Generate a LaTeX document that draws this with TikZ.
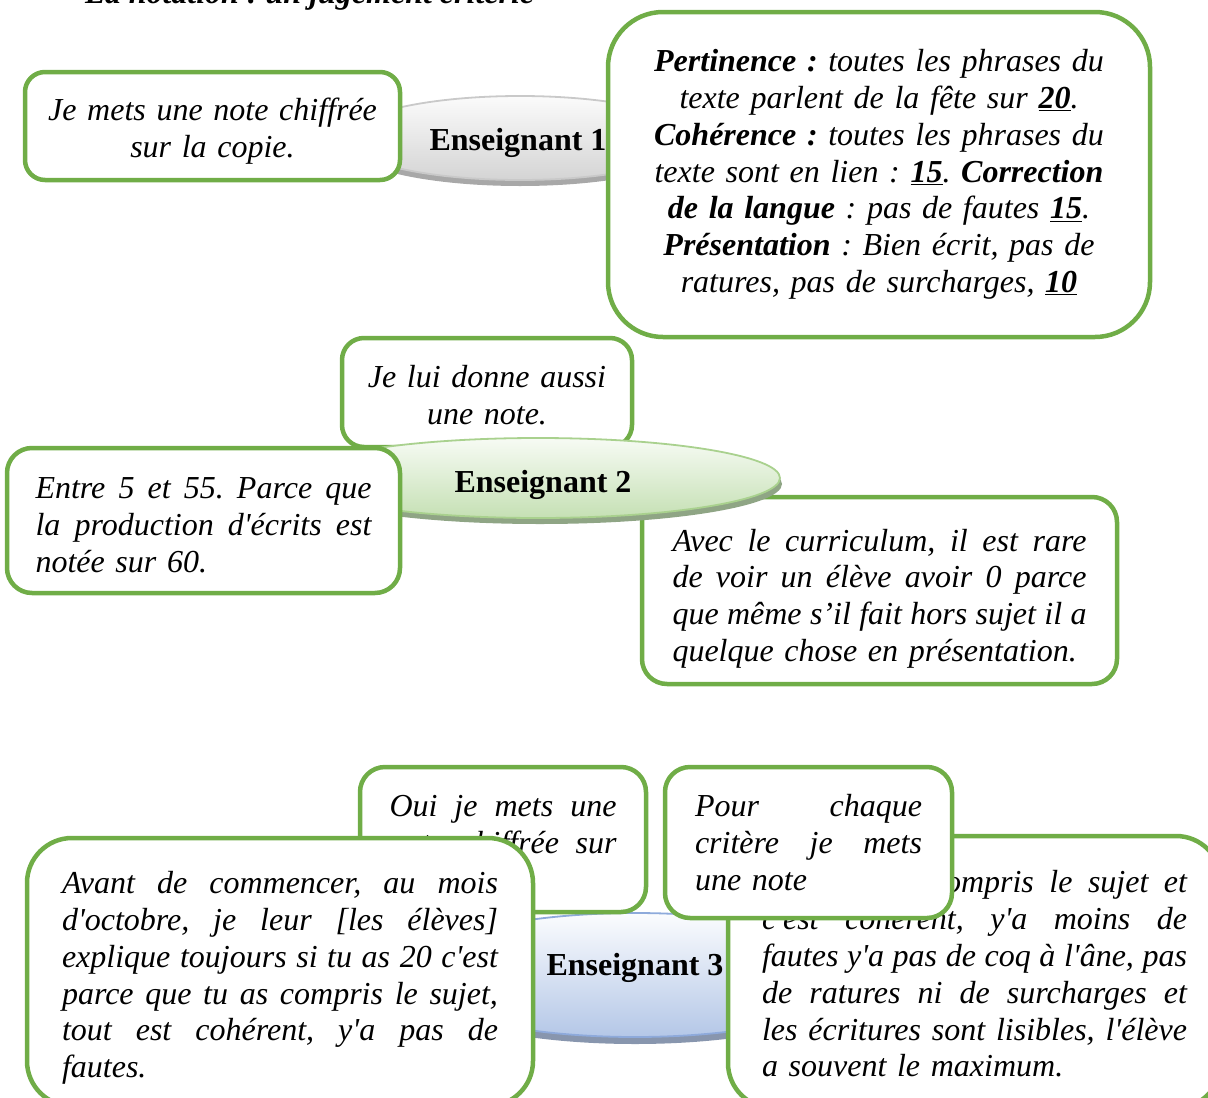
\documentclass[tikz,border=0pt]{standalone}
\usepackage{fontspec}
\setmainfont{Liberation Serif}[Ligatures=TeXOff]
\usetikzlibrary{shapes.geometric,shadows}

\definecolor{leafgreen}{HTML}{70AD47}
\definecolor{greytop}{HTML}{FBFBFB}
\definecolor{greybot}{HTML}{D4D4D4}
\definecolor{greyline}{HTML}{C9C9C9}
\definecolor{greyshade}{HTML}{A8A8A8}
\definecolor{mintop}{HTML}{F7FBF4}
\definecolor{minbot}{HTML}{C5E0B4}
\definecolor{minline}{HTML}{A9D18E}
\definecolor{minshade}{HTML}{8FA585}
\definecolor{skytop}{HTML}{FBFCFE}
\definecolor{skybot}{HTML}{B4C7E7}
\definecolor{skyline}{HTML}{8EAADB}
\definecolor{skyshade}{HTML}{8896AE}

% one justified line: #1 = measure, #2 = words; the spaces absorb all slack
\newcommand\jl[2]{\makebox[#1][s]{\spaceskip=.25em plus 1fil\xspaceskip=.25em plus 1fil\relax #2}\\}

\tikzset{
  card/.style={draw=leafgreen, line width=4.5pt, fill=white, rounded corners=#1,
    inner sep=0pt, font=\fontsize{32}{36.8}\selectfont\itshape\frenchspacing},
  card/.default=24pt,
  % push the text block down inside its card by half the given amount
  sink/.style={execute at end node={\par\kern-#1\relax}},
  hub/.style={ellipse, line width=1.8pt, inner sep=0pt},
  hubtext/.style={anchor=base, inner sep=0pt, font=\fontsize{32}{36.8}\selectfont\bfseries},
}

\begin{document}
\begin{tikzpicture}[x=1pt,y=-1pt]
\useasboundingbox (0,0) rectangle (1208,1098);
\clip (0,0) rectangle (1208,1098);

% heading
\node[anchor=base west, inner sep=0pt, font=\fontsize{32}{36.8}\selectfont\bfseries\itshape\frenchspacing]
  (title) at (85,3) {La notation : un jugement critérié};

% ---- Enseignant 1
\node[hub, draw=greyline, top color=greytop, bottom color=greybot,
  drop shadow={shadow xshift=0pt, shadow yshift=-6pt, fill=greyshade, opacity=1},
  minimum width=350pt, minimum height=84pt] (e1) at (520,138) {};
\node[hubtext] (e1t) at (518,150) {Enseignant 1};

\node[card=20pt, sink=10pt, minimum width=375pt, minimum height=108pt, text width=340pt, align=center]
  (n1a) at (212.5,126) {Je mets une note chiffrée\\ sur la copie.};

\node[card=55pt, minimum width=542pt, minimum height=325pt, text width=480pt, align=center]
  (n1b) at (879,174.5) {%
  \textbf{Pertinence :} toutes les phrases du\\
  texte parlent de la fête sur \underline{\textbf{20}}.\\
  \textbf{Cohérence :} toutes les phrases du\\
  texte sont en lien : \underline{\textbf{15}}. \textbf{Correction}\\
  \textbf{de la langue} : pas de fautes \underline{\textbf{15}}.\\
  \textbf{Présentation} : Bien écrit, pas de\\
  ratures, pas de surcharges, \underline{\textbf{10}}};

% ---- Enseignant 2
\node[card=22pt, sink=6pt, minimum width=290pt, minimum height=109pt, text width=260pt, align=center]
  (n2a) at (487,392.5) {Je lui donne aussi\\ une note.};

\node[card=25pt, sink=16pt, minimum width=475pt, minimum height=187pt, text width=414pt, align=left]
  (n2c) at (879.5,590.5) {%
  \jl{414pt}{Avec le curriculum, il est rare}%
  \jl{414pt}{de voir un élève avoir 0 parce}%
  \jl{414pt}{que même s’il fait hors sujet il a}%
  quelque chose en présentation.};

\node[hub, draw=minline, top color=mintop, bottom color=minbot,
  drop shadow={shadow xshift=2pt, shadow yshift=-6pt, fill=minshade, opacity=1},
  minimum width=484pt, minimum height=80pt] (e2) at (538,478) {};
\node[hubtext] (e2t) at (543,492) {Enseignant 2};

\node[card=25pt, sink=10pt, minimum width=393pt, minimum height=145pt, text width=336pt, align=left]
  (n2b) at (203.5,520.5) {%
  \jl{336pt}{Entre 5 et 55. Parce que}%
  \jl{336pt}{la production d'écrits est}%
  notée sur 60.};

% ---- Enseignant 3
\node[hub, draw=skyline, top color=skytop, bottom color=skybot,
  drop shadow={shadow xshift=0pt, shadow yshift=-7pt, fill=skyshade, opacity=1},
  minimum width=460pt, minimum height=124pt] (e3) at (635,975) {};
\node[hubtext] (e3t) at (635,975) {Enseignant 3};

\node[card=25pt, sink=14pt, minimum width=286pt, minimum height=145pt, text width=227pt, align=left]
  (n3a) at (503,839.5) {%
  \jl{227pt}{Oui je mets une}%
  \jl{227pt}{note chiffrée sur}%
  la copie.};

\node[card=45pt, sink=12pt, minimum width=506pt, minimum height=268pt, text width=436pt, align=left]
  (n3c) at (280,972) {%
  \jl{436pt}{Avant de commencer, au mois}%
  \jl{436pt}{d'octobre, je leur [les élèves]}%
  \jl{436pt}{explique toujours si tu as 20 c'est}%
  \jl{436pt}{parce que tu as compris le sujet,}%
  \jl{436pt}{tout est cohérent, y'a pas de}%
  fautes.};

\node[card=45pt, sink=4pt, minimum width=493pt, minimum height=272pt, text width=425pt, align=left]
  (n3d) at (974.5,972) {%
  \jl{425pt}{Si l'élève a compris le sujet et}%
  \jl{425pt}{c'est cohérent, y'a moins de}%
  \jl{425pt}{fautes y'a pas de coq à l'âne, pas}%
  \jl{425pt}{de ratures ni de surcharges et}%
  \jl{425pt}{les écritures sont lisibles, l'élève}%
  a souvent le maximum.};

\node[card=25pt, minimum width=287pt, minimum height=151pt, text width=227pt, align=left]
  (n3b) at (808.5,842.5) {%
  \jl{227pt}{Pour chaque}%
  \jl{227pt}{critère je mets}%
  une note};
\end{tikzpicture}
\end{document}
